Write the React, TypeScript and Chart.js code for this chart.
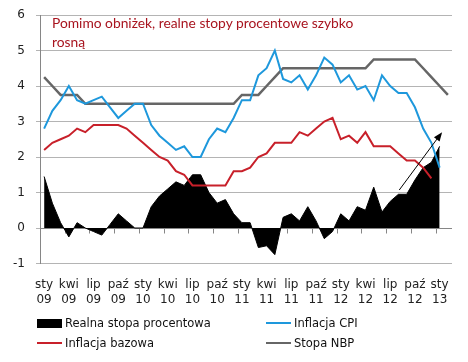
import React, { useEffect, useRef } from "react";
import { Chart, registerables } from "chart.js";

Chart.register(...registerables);

const monthNames = ["sty", "lut", "mar", "kwi", "maj", "cze", "lip", "sie", "wrz", "paź", "lis", "gru"];
const yearLabels = ["09", "10", "11", "12", "13"];
const categories: string[] = [];
for (let y = 0; y < yearLabels.length; y++) {
  for (let m = 0; m < 12; m++) {
    if (categories.length < 50) categories.push(monthNames[m] + " " + yearLabels[y]);
  }
}

const realRate = [
  1.45, 0.7, 0.15, -0.25, 0.15, 0.0, -0.1, -0.2, 0.1, 0.4, 0.2, 0.0,
  0.0, 0.6, 0.9, 1.1, 1.3, 1.2, 1.5, 1.5, 1.0, 0.7, 0.8, 0.4,
  0.15, 0.15, -0.55, -0.5, -0.75, 0.3, 0.4, 0.2, 0.6, 0.2, -0.3, -0.1,
  0.4, 0.2, 0.6, 0.5, 1.15, 0.45, 0.75, 0.95, 0.95, 1.35, 1.7, 1.85,
  2.3,
];
const cpi = [
  2.8, 3.3, 3.6, 4.0, 3.6, 3.5, 3.6, 3.7, 3.4, 3.1, 3.3, 3.5,
  3.5, 2.9, 2.6, 2.4, 2.2, 2.3, 2.0, 2.0, 2.5, 2.8, 2.7, 3.1,
  3.6, 3.6, 4.3, 4.5, 5.0, 4.2, 4.1, 4.3, 3.9, 4.3, 4.8, 4.6,
  4.1, 4.3, 3.9, 4.0, 3.6, 4.3, 4.0, 3.8, 3.8, 3.4, 2.8, 2.4,
  1.7,
];
const coreInflation = [
  2.2, 2.4, 2.5, 2.6, 2.8, 2.7, 2.9, 2.9, 2.9, 2.9, 2.8, 2.6,
  2.4, 2.2, 2.0, 1.9, 1.6, 1.5, 1.2, 1.2, 1.2, 1.2, 1.2, 1.6,
  1.6, 1.7, 2.0, 2.1, 2.4, 2.4, 2.4, 2.7, 2.6, 2.8, 3.0, 3.1,
  2.5, 2.6, 2.4, 2.7, 2.3, 2.3, 2.3, 2.1, 1.9, 1.9, 1.7, 1.4,
];
const nbpRate = [
  4.25, 4.0, 3.75, 3.75, 3.75, 3.5, 3.5, 3.5, 3.5, 3.5, 3.5, 3.5,
  3.5, 3.5, 3.5, 3.5, 3.5, 3.5, 3.5, 3.5, 3.5, 3.5, 3.5, 3.5,
  3.75, 3.75, 3.75, 4.0, 4.25, 4.5, 4.5, 4.5, 4.5, 4.5, 4.5, 4.5,
  4.5, 4.5, 4.5, 4.5, 4.75, 4.75, 4.75, 4.75, 4.75, 4.75, 4.5, 4.25,
  4.0, 3.75,
];
// arrow annotation in data coordinates: [categoryIndex, value]
const arrowFrom = [43.1, 1.07];
const arrowTo = [48.3, 2.7];

const title1 = "Pomimo obniżek, realne stopy procentowe szybko";
const title2 = "rosną";
const legendItems = [
  { label: "Realna stopa procentowa", kind: "box", color: "#000000" },
  { label: "Inflacja CPI", kind: "line", color: "#1E98DC" },
  { label: "Inflacja bazowa", kind: "line", color: "#C8202A" },
  { label: "Stopa NBP", kind: "line", color: "#666666" },
];

const axisPlugin = {
  id: "zeroAxisAndArrow",
  beforeDatasetsDraw(chart: any) {
    const { ctx, scales, chartArea } = chart;
    const x = scales.x;
    const y = scales.y;
    const y0 = Math.round(y.getPixelForValue(0)) + 0.5;
    ctx.save();
    ctx.strokeStyle = "#868686";
    ctx.lineWidth = 1;
    ctx.beginPath();
    ctx.moveTo(chartArea.left, y0);
    ctx.lineTo(chartArea.right, y0);
    for (let k = -0.5; k < categories.length; k += 3) {
      const px = Math.round(x.getPixelForValue(k)) + 0.5;
      ctx.moveTo(px, y0);
      ctx.lineTo(px, y0 + 5);
    }
    ctx.stroke();
    ctx.restore();
  },
  afterDatasetsDraw(chart: any) {
    const { ctx, scales } = chart;
    const x1 = scales.x.getPixelForValue(arrowFrom[0]);
    const y1 = scales.y.getPixelForValue(arrowFrom[1]);
    const x2 = scales.x.getPixelForValue(arrowTo[0]);
    const y2 = scales.y.getPixelForValue(arrowTo[1]);
    const ang = Math.atan2(y2 - y1, x2 - x1);
    const hl = 9;
    const hw = 3.5;
    ctx.save();
    ctx.strokeStyle = "#000";
    ctx.fillStyle = "#000";
    ctx.lineWidth = 1;
    ctx.beginPath();
    ctx.moveTo(x1, y1);
    ctx.lineTo(x2 - Math.cos(ang) * hl * 0.8, y2 - Math.sin(ang) * hl * 0.8);
    ctx.stroke();
    ctx.beginPath();
    ctx.moveTo(x2, y2);
    ctx.lineTo(x2 - Math.cos(ang) * hl - Math.sin(ang) * hw, y2 - Math.sin(ang) * hl + Math.cos(ang) * hw);
    ctx.lineTo(x2 - Math.cos(ang) * hl + Math.sin(ang) * hw, y2 - Math.sin(ang) * hl - Math.cos(ang) * hw);
    ctx.closePath();
    ctx.fill();
    ctx.restore();
  },
};

export default function App() {
  const canvasRef = useRef<HTMLCanvasElement | null>(null);

  useEffect(() => {
    if (!canvasRef.current) return;
    const chart = new Chart(canvasRef.current, {
      type: "line",
      data: {
        labels: categories,
        datasets: [
          { label: legendItems[1].label, data: cpi, borderColor: legendItems[1].color, borderWidth: 2, pointRadius: 0, tension: 0, fill: false, order: 0 },
          { label: legendItems[2].label, data: coreInflation, borderColor: legendItems[2].color, borderWidth: 2, pointRadius: 0, tension: 0, fill: false, order: 1 },
          { label: legendItems[3].label, data: nbpRate, borderColor: legendItems[3].color, borderWidth: 2.5, pointRadius: 0, tension: 0, fill: false, order: 2 },
          { label: legendItems[0].label, data: realRate, borderColor: "#000", backgroundColor: "#000", borderWidth: 1, pointRadius: 0, tension: 0, fill: "origin", order: 5 },
        ],
      },
      options: {
        responsive: false,
        animation: false,
        layout: { padding: { top: 15, right: 16, left: 0, bottom: 0 } },
        plugins: { legend: { display: false }, tooltip: { enabled: false } },
        scales: {
          x: {
            type: "category",
            offset: true,
            grid: { display: false, drawTicks: false },
            border: { display: false },
            afterFit(scale: any) {
              scale.height = 98.5;
              scale.paddingTop = 0;
              scale.paddingBottom = 0;
            },
            ticks: {
              autoSkip: false,
              maxRotation: 0,
              minRotation: 0,
              padding: 14,
              color: "#222",
              font: { family: "DejaVu Sans", size: 12, lineHeight: 1.25 },
              callback: (_v: any, i: number) => {
                if (i % 3 !== 0) return "";
                const parts = categories[i].split(" ");
                return [parts[0], parts[1]];
              },
            },
          },
          y: {
            min: -1,
            max: 6,
            afterFit(scale: any) {
              scale.width = 40;
              scale.paddingTop = 0;
              scale.paddingBottom = 0;
            },
            grid: { color: "#B4B4B4", lineWidth: 1, tickLength: 4, drawTicks: true },
            border: { display: true, color: "#868686" },
            ticks: {
              stepSize: 1,
              padding: 11,
              color: "#222",
              font: { family: "DejaVu Sans", size: 12 },
            },
          },
        },
      },
      plugins: [axisPlugin],
    });
    return () => chart.destroy();
  }, []);

  const legendPos = [
    { left: 37, top: 323 },
    { left: 266, top: 323 },
    { left: 37, top: 343 },
    { left: 266, top: 343 },
  ];

  return (
    <div style={{ position: "fixed", left: 0, top: 0, width: 468, height: 362, background: "#fff" }}>
      <canvas ref={canvasRef} width={468} height={362} style={{ display: "block" }} />
      <div
        style={{
          position: "absolute",
          left: 52,
          top: 13,
          color: "#A8141F",
          fontFamily: "Lato",
          fontSize: 13.8,
          lineHeight: "19px",
          whiteSpace: "nowrap",
        }}
      >
        <div>{title1}</div>
        <div>{title2}</div>
      </div>
      {legendItems.map((it, i) => (
        <div
          key={it.label}
          style={{
            position: "absolute",
            left: legendPos[i].left,
            top: legendPos[i].top - 8,
            height: 16,
            display: "flex",
            alignItems: "center",
            fontFamily: "DejaVu Sans",
            fontSize: 11.5,
            color: "#111",
            whiteSpace: "nowrap",
          }}
        >
          <span style={{ display: "inline-block", width: 25, height: it.kind === "box" ? 9 : 2, background: it.color, marginRight: 3 }} />
          <span>{it.label}</span>
        </div>
      ))}
    </div>
  );
}
